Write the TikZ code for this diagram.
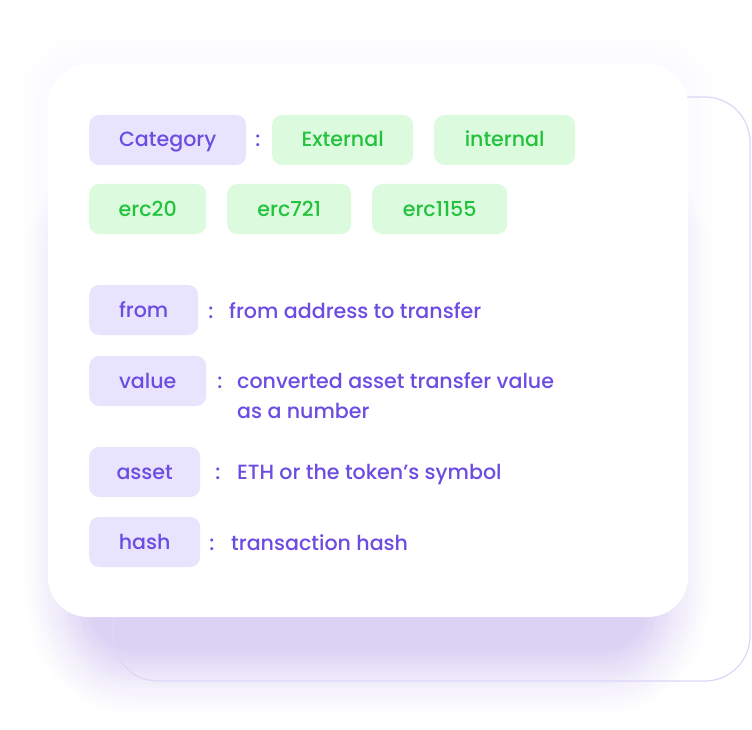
\documentclass[tikz,border=0pt]{standalone}
\usepackage{fontspec}
\setmainfont{Poppins Medium}
\usetikzlibrary{positioning}
\definecolor{lavfill}{HTML}{E9E4FD}
\definecolor{lavtext}{HTML}{6B4DE2}
\definecolor{grnfill}{HTML}{DCFADD}
\definecolor{grntext}{HTML}{22C33C}
\definecolor{cardline}{HTML}{DDD6F7}
\definecolor{glow}{HTML}{B9A8EA}
\newcommand{\boxfont}{\fontsize{20.6}{30}\selectfont}

\tikzset{
	keybox/.style = {fill=lavfill, text=lavtext, rounded corners=10pt,
		minimum height=50pt, anchor=west, inner sep=0pt,
		text height=17pt, text depth=3pt, font=\boxfont},
	tagbox/.style = {keybox, fill=grnfill, text=grntext},
	desc/.style = {text=lavtext, anchor=west, inner sep=0pt,
		text height=17pt, text depth=3pt, font=\boxfont},
	sep/.style = {desc, anchor=center}
}

\begin{document}
\begin{tikzpicture}[x=1pt, y=-1pt]
	\useasboundingbox (0,0) rectangle (752,730);

	% glow under the front card
	\foreach \d [evaluate=\d as \rr using 40+\d,
	             evaluate=\d as \op using 0.014+0.05*(64-\d)/64] in {0,4,...,64}
		\fill [glow, opacity=\op, rounded corners=\rr pt] (92-\d,210-\d) rectangle (644+\d,652+\d);
	\foreach \d [evaluate=\d as \rr using 40+\d] in {0,6,...,30}
		\fill [glow, opacity=0.012, rounded corners=\rr pt] (48-\d,64-\d) rectangle (688+\d,617+\d);

	% cards
	\draw [cardline, line width=1.2pt, rounded corners=45pt] (113,97) rectangle (750,681);
	\fill [white, rounded corners=40pt] (48,64) rectangle (688,617);

	% category row
	\node [keybox, minimum width=157pt] (cat) at (89,140) {Category};
	\node [sep] (catsep) at (258,140) {:};
	\node [tagbox, minimum width=141pt] (ext) at (272,140) {External};
	\node [tagbox, minimum width=141pt] (int) at (434,140) {internal};
	\node [tagbox, minimum width=117pt] (erc20) at (89,209) {erc20};
	\node [tagbox, minimum width=124pt] (erc721) at (227,209) {erc721};
	\node [tagbox, minimum width=135pt] (erc1155) at (372,209) {erc1155};

	% fields
	\node [keybox, minimum width=109pt] (from) at (89,310) {from};
	\node [sep] (fromsep) at (211,311) {:};
	\node [desc] (fromtxt) at (229,311) {from address to transfer};

	\node [keybox, minimum width=117pt] (value) at (89,381) {value};
	\node [sep] (valuesep) at (220,381) {:};
	\node [text=lavtext, anchor=west, inner sep=0pt, align=left, font=\boxfont]
		(valuetxt) at (237,396) {converted asset transfer value\\as a number};

	\node [keybox, minimum width=111pt] (asset) at (89,472) {asset};
	\node [sep] (assetsep) at (218,472) {:};
	\node [desc] (assettxt) at (237,472) {ETH or the token’s symbol};

	\node [keybox, minimum width=111pt] (hash) at (89,542) {hash};
	\node [sep] (hashsep) at (212,543) {:};
	\node [desc] (hashtxt) at (231,543) {transaction hash};
\end{tikzpicture}
\end{document}
